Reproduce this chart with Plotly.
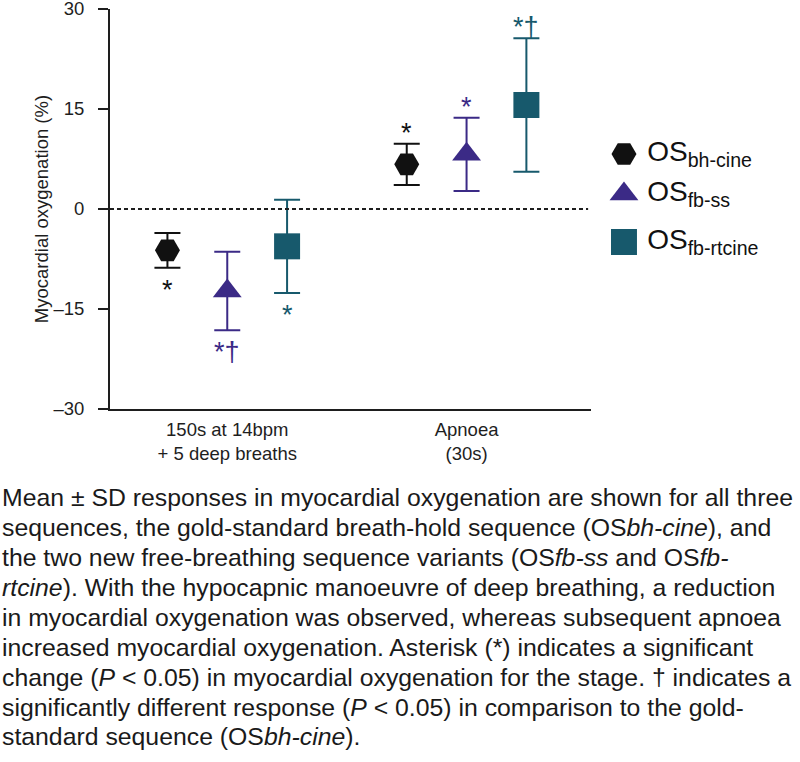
import plotly.graph_objects as go

# ---------------- data ----------------
categories = ["150s at 14bpm<br>+ 5 deep breaths", "Apnoea<br>(30s)"]
series_names = ["OS<sub>bh-cine</sub>", "OS<sub>fb-ss</sub>", "OS<sub>fb-rtcine</sub>"]
mean_bh_cine = [-6.2, 6.7]
sd_bh_cine = [2.6, 3.1]
mean_fb_ss = [-12.3, 8.2]
sd_fb_ss = [5.9, 5.5]
mean_fb_rtcine = [-5.6, 15.6]
sd_fb_rtcine = [7.0, 10.0]
sig_bh_cine = ["*", "*"]
sig_fb_ss = ["*†", "*"]
sig_fb_rtcine = ["*", "*†"]
y_ticks = [-30, -15, 0, 15, 30]
y_tick_labels = ["–30", "–15", "0", "15", "30"]

caption_lines = [
    "Mean ± SD responses in myocardial oxygenation are shown for all three",
    "sequences, the gold-standard breath-hold sequence (OS<i>bh-cine</i>), and",
    "the two new free-breathing sequence variants (OS<i>fb-ss</i> and OS<i>fb-</i>",
    "<i>rtcine</i>). With the hypocapnic manoeuvre of deep breathing, a reduction",
    "in myocardial oxygenation was observed, whereas subsequent apnoea",
    "increased myocardial oxygenation. Asterisk (*) indicates a significant",
    "change (<i>P</i> &lt; 0.05) in myocardial oxygenation for the stage. † indicates a",
    "significantly different response (<i>P</i> &lt; 0.05) in comparison to the gold-",
    "standard sequence (OS<i>bh-cine</i>).",
]

# ---------------- styling ----------------
W, H = 800, 762
ML, MR, MT, MB = 110, 10, 9, 353
PW = W - ML - MR
PH = H - MT - MB
FONT = "Liberation Sans, Arial, sans-serif"
AX = "#1e1e1e"

colors = ["#111111", "#3b2a86", "#17596c"]
symbols = ["hexagon2", "triangle-up", "square"]
sizes = [25, 25, 26]
offsets = [-0.25, 0.0, 0.25]
means = [mean_bh_cine, mean_fb_ss, mean_fb_rtcine]
sds = [sd_bh_cine, sd_fb_ss, sd_fb_rtcine]
sigs = [sig_bh_cine, sig_fb_ss, sig_fb_rtcine]

group_x = [1, 2]

def px_to_paper_x(p):
    return (p - ML) / PW

def px_to_paper_y(p):
    return (H - MB - p) / PH

fig = go.Figure()
annotations = []

for k in range(3):
    xs = [g + offsets[k] for g in group_x]
    fig.add_trace(go.Scatter(
        x=xs, y=means[k], mode="markers",
        marker=dict(symbol=symbols[k], size=sizes[k], color=colors[k], line=dict(width=0)),
        error_y=dict(type="data", array=sds[k], visible=True, color=colors[k],
                     thickness=2, width=13),
        showlegend=False, cliponaxis=False,
    ))
    for gi, x in enumerate(xs):
        m, s = means[k][gi], sds[k][gi]
        below = m < 0
        annotations.append(dict(
            x=x, y=(m - s) if below else (m + s), xref="x", yref="y",
            text=sigs[k][gi], showarrow=False,
            font=dict(family=FONT, size=27, color=colors[k]),
            xanchor="center", yanchor="middle",
            yshift=-22 if below else 11,
        ))

# zero dotted line
fig.add_shape(type="line", xref="x domain", yref="y", x0=0, x1=0.994, y0=0, y1=0,
              line=dict(color=AX, width=2, dash="4px,3px"))

# custom legend (second axis area)
legend_y = [0.6375, 0.5375, 0.4175]
for k in range(3):
    fig.add_trace(go.Scatter(
        x=[0.128], y=[legend_y[k]], xaxis="x2", yaxis="y2", mode="markers",
        marker=dict(symbol=symbols[k], size=sizes[k], color=colors[k], line=dict(width=0)),
        showlegend=False, cliponaxis=False,
    ))
    fig.add_trace(go.Scatter(
        x=[0.25], y=[legend_y[k]], xaxis="x2", yaxis="y2",
        mode="text", text=[series_names[k]], textposition="middle right",
        textfont=dict(family=FONT, size=28, color="#111111"),
        showlegend=False, cliponaxis=False,
    ))

for i, line in enumerate(caption_lines):
    annotations.append(dict(
        x=px_to_paper_x(0), y=px_to_paper_y(497 + 30 * i), xref="paper", yref="paper",
        text=line, showarrow=False, xanchor="left", yanchor="middle",
        font=dict(family=FONT, size=24.8, color="#1a1a1a"),
    ))

fig.update_layout(
    width=W, height=H,
    margin=dict(l=ML, r=MR, t=MT, b=MB, autoexpand=False),
    paper_bgcolor="white", plot_bgcolor="white",
    showlegend=False,
    font=dict(family=FONT, color=AX),
    xaxis=dict(domain=[0, 481 / PW], range=[0.51, 2.52], tickvals=group_x, ticktext=categories,
               showline=True, linewidth=2, linecolor=AX, ticks="", showgrid=False,
               zeroline=False, tickfont=dict(size=18.5, color=AX), automargin=False,
               ticklabelstandoff=3),
    yaxis=dict(range=[-30, 30], tickvals=y_ticks, ticktext=y_tick_labels,
               showline=True, linewidth=2, linecolor=AX, ticks="outside", ticklen=10,
               tickwidth=2, tickcolor=AX, showgrid=False, zeroline=False,
               tickfont=dict(size=18.5, color=AX), ticklabelstandoff=10,
               ticklabeloverflow="allow", automargin=False,
               title=dict(text="Myocardial oxygenation (%)", font=dict(size=18.5, color=AX), standoff=0)),
    xaxis2=dict(domain=[0.72, 1.0], range=[0, 1], visible=False, anchor="y2"),
    yaxis2=dict(domain=[0, 1], range=[0, 1], visible=False, anchor="x2"),
    annotations=annotations,
)

fig.write_html("out.html", config={"displayModeBar": False},
               post_script="document.body.style.margin='0';")
